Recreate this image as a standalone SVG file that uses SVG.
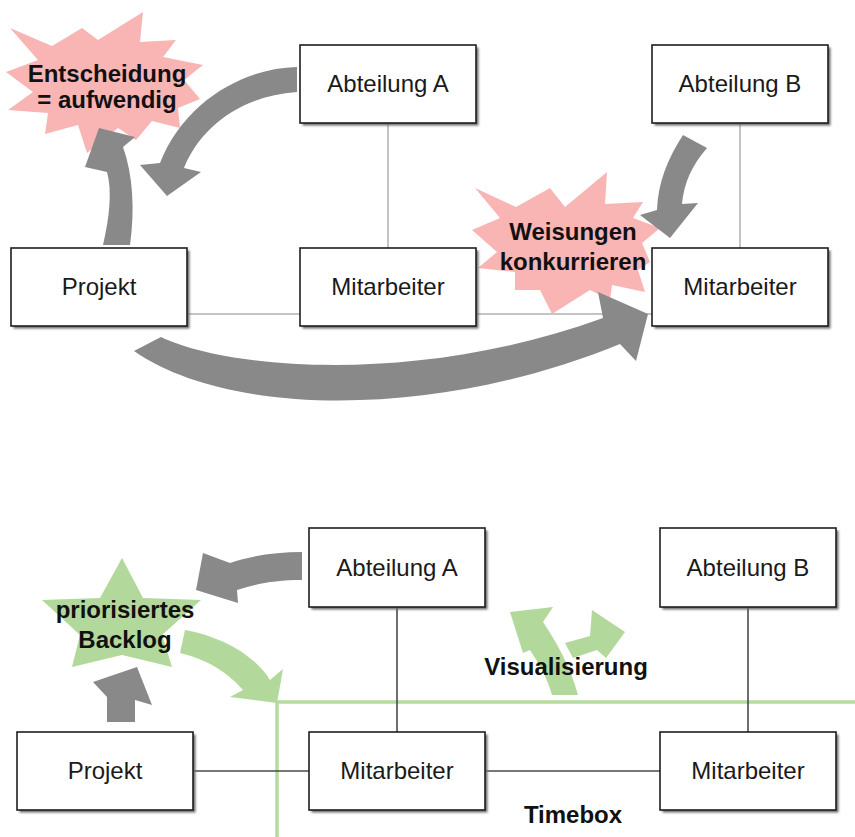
<svg xmlns="http://www.w3.org/2000/svg" width="855" height="837" viewBox="0 0 855 837">
  <style>
    .box { fill: #ffffff; stroke: #1e1e1e; stroke-width: 1.6; }
    .shadow { fill: #6a6a6a; filter: url(#soft); }
    .lbl { font-family: "Liberation Sans", Arial, sans-serif; font-size: 24px; fill: #1a1a1a; text-anchor: middle; }
    .bold { font-family: "Liberation Sans", Arial, sans-serif; font-size: 24px; font-weight: bold; fill: #111; text-anchor: middle; }
    .light { stroke: #c4c4c4; stroke-width: 2; fill: none; }
    .dark { stroke: #4a4a4a; stroke-width: 1.6; fill: none; }
    .grey { fill: #898989; }
    .green { fill: #b3d89c; }
    .pink { fill: #f9b4b4; }
    .timebox { stroke: #b5dca0; stroke-width: 3.5; fill: none; }
  </style>
  <defs>
    <filter id="soft" x="-10%" y="-10%" width="120%" height="120%">
      <feGaussianBlur stdDeviation="1"/>
    </filter>
  </defs>

  <rect width="855" height="837" fill="#ffffff"/>

  <!-- ===== upper organisation chart ===== -->
  <g id="connectors-top">
    <line class="light" x1="388" y1="123" x2="388" y2="248"/>
    <line class="light" x1="740" y1="123" x2="740" y2="248"/>
    <line class="light" x1="186" y1="314" x2="300" y2="314"/>
    <line class="light" x1="476" y1="314" x2="652" y2="314"/>
  </g>

  <g id="burst-entscheidung">
    <polygon class="pink" points="10,28 52,46 82,28 98,40 143,12 140,42 176,40 163,57 203,65 184,80 200,99 178,108 180,128 152,121 136,140 118,128 87,153 78,125 45,134 48,113 8,110 33,92 6,72 38,60"/>
    <text class="bold" x="107" y="82">Entscheidung</text>
    <text class="bold" x="107" y="108">= aufwendig</text>
  </g>

  <g id="burst-weisungen">
    <polygon class="pink" points="475,188 516,207 550,188 565,207 607,172 605,204 643,202 633,218 660,228 642,243 650,262 638,270 645,292 612,285 610,300 590,290 552,314 540,290 515,290 515,272 478,268 497,252 472,230 500,218"/>
    <text class="bold" x="573" y="240">Weisungen</text>
    <text class="bold" x="573" y="270">konkurrieren</text>
  </g>

  <g id="top-abteilung-a">
    <rect class="shadow" x="302.5" y="47.5" width="176" height="78"/>
    <rect class="box" x="300" y="45" width="176" height="78"/>
    <text class="lbl" x="388" y="92">Abteilung A</text>
  </g>
  <g id="top-abteilung-b">
    <rect class="shadow" x="654.5" y="47.5" width="176" height="78"/>
    <rect class="box" x="652" y="45" width="176" height="78"/>
    <text class="lbl" x="740" y="92">Abteilung B</text>
  </g>
  <g id="top-projekt">
    <rect class="shadow" x="13.5" y="250.5" width="176" height="78"/>
    <rect class="box" x="11" y="248" width="176" height="78"/>
    <text class="lbl" x="99" y="295">Projekt</text>
  </g>
  <g id="top-mitarbeiter-a">
    <rect class="shadow" x="302.5" y="250.5" width="176" height="78"/>
    <rect class="box" x="300" y="248" width="176" height="78"/>
    <text class="lbl" x="388" y="295">Mitarbeiter</text>
  </g>
  <g id="top-mitarbeiter-b">
    <rect class="shadow" x="654.5" y="250.5" width="176" height="78"/>
    <rect class="box" x="652" y="248" width="176" height="78"/>
    <text class="lbl" x="740" y="295">Mitarbeiter</text>
  </g>

  <g id="flow-arrows-top">
    <!-- Abteilung A to the decision burst -->
    <path class="grey" d="M297,67 C245,68 185,100 160,163 L140,165 L167,196 L201,172 L184,168 C200,128 240,96 297,92 Z"/>
    <!-- Projekt up to the decision burst -->
    <path class="grey" d="M103,245 C110,215 112,190 107,172 L85,167 L99,128 L135,137 L123,147 C133,175 135,210 130,245 Z"/>
    <!-- Abteilung B down to Mitarbeiter -->
    <path class="grey" d="M683,135 C668,158 658,182 657,210 L640,215 L670,238 L698,203 L682,204 C684,183 692,165 707,148 Z"/>
    <!-- Projekt round to Mitarbeiter -->
    <path class="grey" d="M134,351 L161,337 C230,370 420,385 603,318 L598,292 L648,314 L636,361 L620,344 C440,418 230,418 134,351 Z"/>
  </g>

  <!-- ===== lower organisation chart ===== -->
  <g id="timebox">
    <polyline class="timebox" points="277,837 277,702 855,702"/>
    <text class="bold" x="573" y="823">Timebox</text>
  </g>

  <g id="connectors-bottom">
    <line class="dark" x1="397" y1="607" x2="397" y2="732"/>
    <line class="dark" x1="748" y1="607" x2="748" y2="732"/>
    <line class="dark" x1="193" y1="771" x2="309" y2="771"/>
    <line class="dark" x1="485" y1="771" x2="660" y2="771"/>
  </g>

  <g id="bottom-abteilung-a">
    <rect class="shadow" x="311.5" y="530.5" width="176" height="79"/>
    <rect class="box" x="309" y="528" width="176" height="79"/>
    <text class="lbl" x="397" y="576">Abteilung A</text>
  </g>
  <g id="bottom-abteilung-b">
    <rect class="shadow" x="662.5" y="530.5" width="176" height="79"/>
    <rect class="box" x="660" y="528" width="176" height="79"/>
    <text class="lbl" x="748" y="576">Abteilung B</text>
  </g>
  <g id="bottom-projekt">
    <rect class="shadow" x="19.5" y="734.5" width="176" height="78"/>
    <rect class="box" x="17" y="732" width="176" height="78"/>
    <text class="lbl" x="105" y="779">Projekt</text>
  </g>
  <g id="bottom-mitarbeiter-a">
    <rect class="shadow" x="311.5" y="734.5" width="176" height="78"/>
    <rect class="box" x="309" y="732" width="176" height="78"/>
    <text class="lbl" x="397" y="779">Mitarbeiter</text>
  </g>
  <g id="bottom-mitarbeiter-b">
    <rect class="shadow" x="662.5" y="734.5" width="176" height="78"/>
    <rect class="box" x="660" y="732" width="176" height="78"/>
    <text class="lbl" x="748" y="779">Mitarbeiter</text>
  </g>

  <g id="backlog-star">
    <polygon class="green" points="122,558 143,598 201,600 162,635 172,667 122,655 72,667 80,635 42,600 100,598"/>
    <text class="bold" x="125" y="618">priorisiertes</text>
    <text class="bold" x="125" y="648">Backlog</text>
  </g>

  <g id="flow-arrows-bottom">
    <!-- Abteilung A to the backlog -->
    <path class="grey" d="M302,552 C275,552 250,556 230,563 L203,553 L196,590 L238,603 L237,590 C255,584 275,580 302,580 Z"/>
    <!-- Projekt up to the backlog -->
    <path class="grey" d="M107,722 L107,697 L93,682 L137,667 L152,705 L135,700 L135,722 Z"/>
    <!-- backlog into the timebox -->
    <path class="green" d="M185,630 C220,636 255,655 270,680 L283,669 L277,703 L230,697 L243,690 C230,675 210,660 180,653 Z"/>
  </g>

  <g id="visualisierung">
    <path class="green" d="M565,643 L590,636 L592,610 L625,632 L606,658 L597,650 L573,658 Z"/>
    <path class="green" d="M552,695 C548,680 540,665 530,650 L523,653 L510,612 L553,607 L543,622 C555,640 570,665 578,695 Z"/>
    <text class="bold" x="566" y="675">Visualisierung</text>
  </g>
</svg>
